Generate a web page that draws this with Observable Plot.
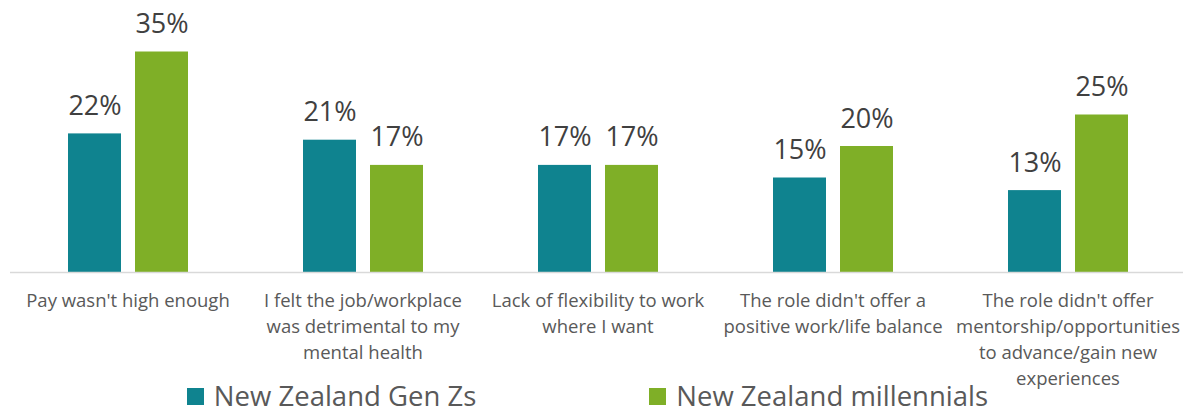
<!DOCTYPE html>
<html>
<head>
<meta charset="utf-8">
<script src="https://cdn.jsdelivr.net/npm/d3@7"></script>
<script src="https://cdn.jsdelivr.net/npm/@observablehq/plot@0.6"></script>
<style>
  html, body { margin: 0; padding: 0; background: #fff; }
  body { width: 1183px; height: 412px; overflow: hidden; font-family: "Open Sans", sans-serif; }
  #chart svg { overflow: visible; display: block; }
  #legend { display: flex; justify-content: center; align-items: center; gap: 173px; height: 30px; color: #595959; font-size: 27.5px; line-height: 30px; padding-right: 8px; position: relative; top: 1px; }
  .item { display: flex; align-items: center; }
  .sw { width: 17px; height: 17px; margin-right: 10px; display: inline-block; }
</style>
</head>
<body>
<div id="chart"></div>
<div id="legend"></div>
<script>
const categories = [
  "Pay wasn't high enough",
  "I felt the job/workplace\nwas detrimental to my\nmental health",
  "Lack of flexibility to work\nwhere I want",
  "The role didn't offer a\npositive work/life balance",
  "The role didn't offer\nmentorship/opportunities\nto advance/gain new\nexperiences"
];
const seriesNames = ["New Zealand Gen Zs", "New Zealand millennials"];
const genZ = [22, 21, 17, 15, 13];
const millennials = [35, 17, 17, 20, 25];
const colors = ["#0F838F", "#7FAF27"];

const data = [];
categories.forEach((c, i) => {
  data.push({category: c, series: seriesNames[0], value: genZ[i]});
  data.push({category: c, series: seriesNames[1], value: millennials[i]});
});

const chart = Plot.plot({
  width: 1183,
  height: 380,
  marginLeft: 9,
  marginRight: -2,
  marginTop: 20,
  marginBottom: 108,
  style: {fontFamily: "'Open Sans', sans-serif", background: "#fff", overflow: "visible"},
  fx: {domain: categories, padding: 0, label: null, axis: null},
  x: {domain: seriesNames, paddingInner: 0.209, paddingOuter: 0.85, axis: null},
  y: {domain: [0, 40], axis: null},
  color: {domain: seriesNames, range: colors},
  marks: [
    Plot.barY(data, {fx: "category", x: "series", y: "value", fill: "series"}),
    Plot.ruleY([0], {stroke: "#d9d9d9", strokeWidth: 1.5}),
    Plot.text(data, {fx: "category", x: "series", y: "value", text: d => d.value + "%", lineAnchor: "bottom", dy: -19, fontSize: 27, fill: "#404040"}),
    Plot.text(categories, {fx: d => d, frameAnchor: "bottom", text: d => d, lineAnchor: "top", dy: 16, fontSize: 18.5, lineHeight: 1.4, fill: "#595959"})
  ]
});
document.getElementById("chart").appendChild(chart);

const legend = document.getElementById("legend");
seriesNames.forEach((s, i) => {
  const it = document.createElement("div");
  it.className = "item";
  const sw = document.createElement("span");
  sw.className = "sw";
  sw.style.background = colors[i];
  const t = document.createElement("span");
  t.textContent = s;
  it.appendChild(sw);
  it.appendChild(t);
  legend.appendChild(it);
});
</script>
</body>
</html>
